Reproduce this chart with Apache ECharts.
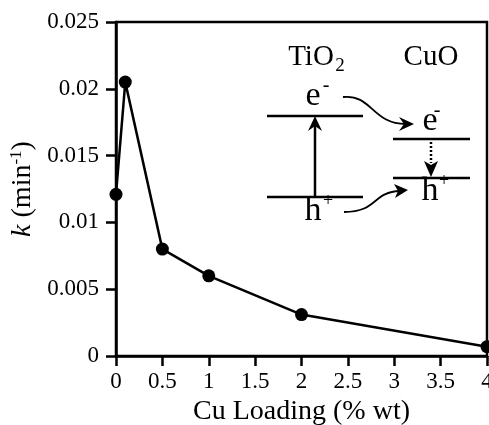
<!DOCTYPE html>
<html>
<head>
<meta charset="utf-8">
<script src="https://cdn.jsdelivr.net/npm/echarts@6/dist/echarts.min.js"></script>
<style>
  html, body { margin: 0; padding: 0; background: #fff; }
  #chart { width: 489px; height: 425px; }
</style>
</head>
<body>
<div id="chart"></div>
<script>
// Cu loading (% wt) vs rate constant k (min^-1)
const cuLoading = [0, 0.1, 0.5, 1, 2, 4];
const kValues = [0.0121, 0.0205, 0.0080, 0.0060, 0.0031, 0.0007];

const serif = '"Liberation Serif", "DejaVu Serif", serif';

const chart = echarts.init(document.getElementById('chart'));

// band diagram inset (annotation only)
const lineStyle = { stroke: '#000', lineWidth: 2.5 };
const txt = (text, x, y, size, extra) => ({
  type: 'text',
  style: Object.assign({
    text: text, x: x, y: y,
    font: size + 'px ' + serif,
    fill: '#000', align: 'center', verticalAlign: 'middle'
  }, extra || {})
});
const seg = (x1, y1, x2, y2, extra) => ({
  type: 'line',
  shape: { x1: x1, y1: y1, x2: x2, y2: y2 },
  style: Object.assign({}, lineStyle, extra || {})
});
const head = (points) => ({
  type: 'polygon',
  shape: { points: points },
  style: { fill: '#000' }
});

const inset = [
  txt('TiO', 311, 57, 29),
  txt('2', 340, 66, 19),
  txt('CuO', 431, 57, 29),
  // TiO2 bands
  seg(267, 116, 363, 116),
  seg(267, 197, 363, 197),
  seg(315, 197, 315, 120),
  head([[315, 116], [308, 131], [315, 126], [322, 131]]),
  txt('e', 313, 96, 34),
  txt('-', 326, 86, 20),
  txt('h', 313, 211, 34),
  txt('+', 328, 201, 18),
  // CuO bands
  seg(393, 139, 470, 139),
  seg(393, 178, 470, 178),
  seg(431, 142, 431, 163, { lineDash: [2, 2] }),
  head([[431, 177], [424, 161], [431, 165], [438, 161]]),
  txt('e', 430, 121, 34),
  txt('-', 437, 111, 20),
  txt('h', 430, 191, 34),
  txt('+', 444, 181, 18),
  // transfer arrows
  {
    type: 'bezierCurve',
    shape: { x1: 343, y1: 97, cpx1: 372, cpy1: 94, cpx2: 372, cpy2: 124, x2: 406, y2: 124 },
    style: { stroke: '#000', lineWidth: 1.8, fill: null }
  },
  head([[414, 124], [399, 117], [404, 124], [399, 131]]),
  {
    type: 'bezierCurve',
    shape: { x1: 344, y1: 212, cpx1: 378, cpy1: 212, cpx2: 372, cpy2: 192, x2: 400, y2: 191 },
    style: { stroke: '#000', lineWidth: 1.8, fill: null }
  },
  head([[408, 190], [394, 184], [398, 191], [395, 198]])
];

const option = {
  animation: false,
  backgroundColor: '#fff',
  grid: {
    left: 116, right: 2, top: 22, bottom: 69,
    outerBoundsMode: 'none',
    containLabel: false,
    show: true, borderColor: '#000', borderWidth: 2.5
  },
  xAxis: {
    type: 'value',
    min: 0, max: 4, interval: 0.5,
    name: 'Cu Loading (% wt)',
    nameLocation: 'middle',
    nameGap: 38,
    nameTextStyle: { fontFamily: serif, fontSize: 28, color: '#000' },
    axisLine: { lineStyle: { color: '#000', width: 2.5 } },
    axisTick: { inside: false, length: 10, lineStyle: { color: '#000', width: 2.5 } },
    axisLabel: { fontFamily: serif, fontSize: 23, color: '#000', margin: 14 },
    splitLine: { show: false }
  },
  yAxis: {
    type: 'value',
    min: 0, max: 0.025, interval: 0.005,
    name: '{i|k} (min{s|-1})',
    nameLocation: 'middle',
    nameRotate: 90,
    nameGap: 76,
    nameTextStyle: {
      fontFamily: serif, fontSize: 28, color: '#000',
      rich: {
        i: { fontFamily: serif, fontSize: 28, fontStyle: 'italic', color: '#000' },
        s: { fontFamily: serif, fontSize: 17, color: '#000', verticalAlign: 'top', padding: [0, 0, 12, 0] }
      }
    },
    axisLine: { lineStyle: { color: '#000', width: 2.5 } },
    axisTick: { inside: false, length: 10, lineStyle: { color: '#000', width: 2.5 } },
    axisLabel: { fontFamily: serif, fontSize: 23, color: '#000', margin: 17 },
    splitLine: { show: false }
  },
  series: [
    {
      type: 'line',
      data: cuLoading.map((x, i) => [x, kValues[i]]),
      symbol: 'circle',
      symbolSize: 13,
      clip: false,
      lineStyle: { color: '#000', width: 2.5 },
      itemStyle: { color: '#000' }
    }
  ],
  graphic: inset
};

chart.setOption(option);

window.addEventListener('resize', () => chart.resize());
</script>
</body>
</html>
